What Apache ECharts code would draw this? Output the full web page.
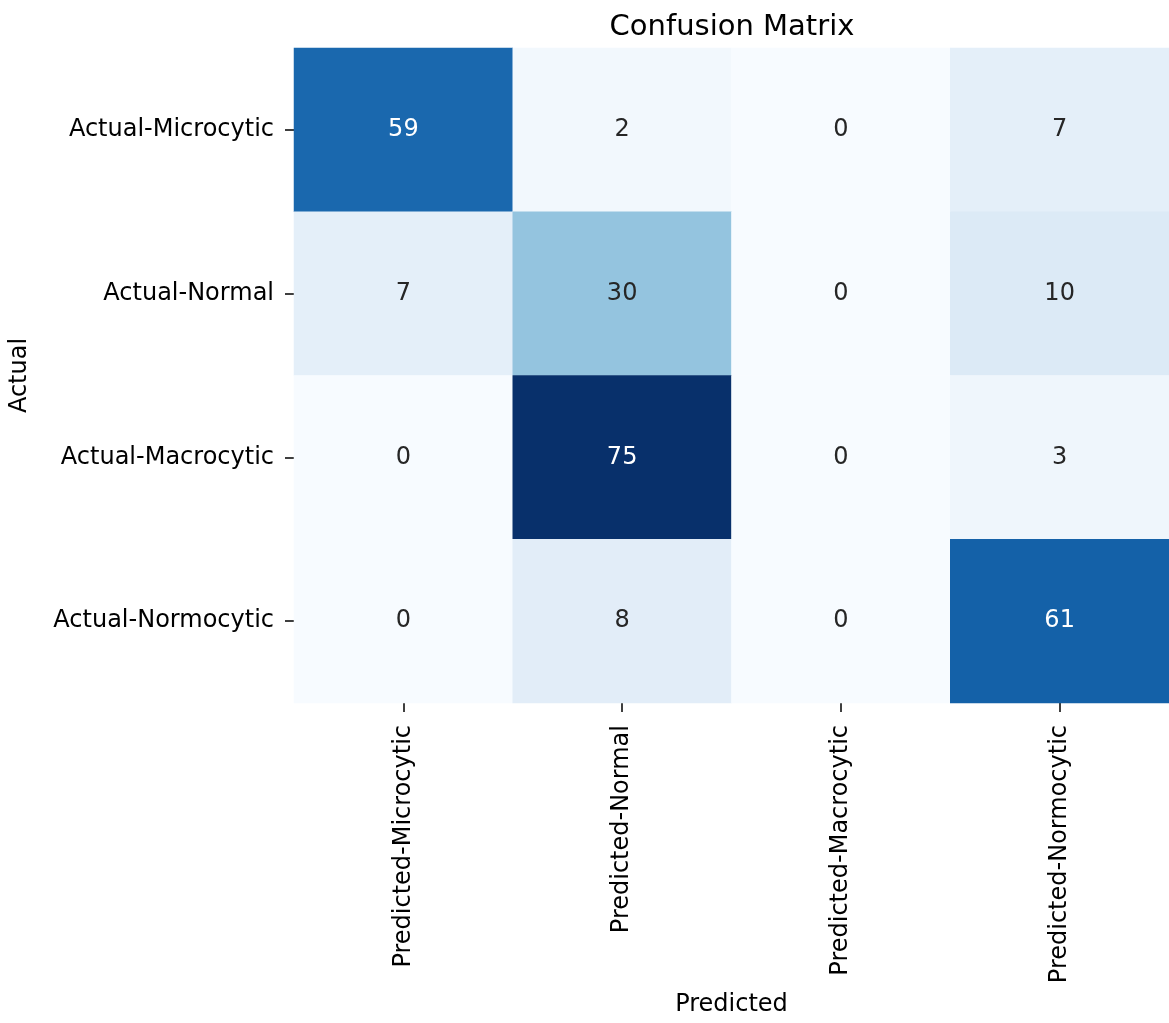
<!DOCTYPE html>
<html>
<head>
<meta charset="utf-8">
<script src="https://cdn.jsdelivr.net/npm/echarts@6/dist/echarts.min.js"></script>
<style>
  html, body { margin: 0; padding: 0; background: #ffffff; }
  #chart { width: 1169px; height: 1023px; }
</style>
</head>
<body>
<div id="chart"></div>
<script>
// Confusion matrix of predicted vs. actual red-cell classes
const predictedLabels = ['Predicted-Microcytic', 'Predicted-Normal', 'Predicted-Macrocytic', 'Predicted-Normocytic'];
const actualLabels = ['Actual-Microcytic', 'Actual-Normal', 'Actual-Macrocytic', 'Actual-Normocytic'];

// counts[row][col]: row = actual class, col = predicted class
const rowMicrocytic = [59, 2, 0, 7];
const rowNormal = [7, 30, 0, 10];
const rowMacrocytic = [0, 75, 0, 3];
const rowNormocytic = [0, 8, 0, 61];
const counts = [rowMicrocytic, rowNormal, rowMacrocytic, rowNormocytic];

// Blues colour ramp
const blues = ['#f7fbff', '#deebf7', '#c6dbef', '#9ecae1', '#6baed6', '#4292c6', '#2171b5', '#08519c', '#08306b'];

const maxCount = Math.max(...counts.flat());
const minCount = Math.min(...counts.flat());

const cells = [];
counts.forEach((row, r) => {
  row.forEach((v, c) => {
    const dark = (v - minCount) / (maxCount - minCount) > 0.55;
    cells.push({
      value: [c, r, v],
      label: { color: dark ? '#ffffff' : '#262626' }
    });
  });
});

const FONT = 'DejaVu Sans';
const chart = echarts.init(document.getElementById('chart'), null, { renderer: 'canvas' });

chart.setOption({
  backgroundColor: '#ffffff',
  animation: false,
  title: {
    text: 'Confusion Matrix',
    left: 727,
    top: 8,
    textAlign: 'center',
    textStyle: { fontFamily: FONT, fontSize: 29, fontWeight: 'normal', color: '#000000' }
  },
  grid: { left: 292, top: 48, width: 877, height: 655, containLabel: false },
  xAxis: {
    type: 'category',
    data: predictedLabels,
    position: 'bottom',
    name: 'Predicted',
    nameLocation: 'middle',
    nameGap: 290,
    nameTextStyle: { fontFamily: FONT, fontSize: 24, color: '#000000' },
    axisLine: { show: false },
    axisTick: { show: true, alignWithLabel: true, length: 9, lineStyle: { color: '#000000', width: 1.5 } },
    axisLabel: { rotate: 90, margin: 22, fontFamily: FONT, fontSize: 24, color: '#000000', interval: 0 },
    splitLine: { show: false },
    splitArea: { show: false }
  },
  yAxis: {
    type: 'category',
    data: actualLabels,
    inverse: true,
    name: 'Actual',
    nameLocation: 'middle',
    nameGap: 262,
    nameRotate: 90,
    nameTextStyle: { fontFamily: FONT, fontSize: 24, color: '#000000' },
    axisLine: { show: false },
    axisTick: { show: true, alignWithLabel: true, length: 9, lineStyle: { color: '#000000', width: 1.5 } },
    axisLabel: { margin: 20, fontFamily: FONT, fontSize: 24, color: '#000000', interval: 0, padding: [4, 0, 0, 0] },
    splitLine: { show: false },
    splitArea: { show: false }
  },
  visualMap: {
    show: false,
    type: 'continuous',
    min: minCount,
    max: maxCount,
    dimension: 2,
    inRange: { color: blues }
  },
  series: [{
    type: 'heatmap',
    data: cells,
    label: {
      show: true,
      fontFamily: FONT,
      fontSize: 24,
      padding: [3, 0, 0, 0],
      formatter: p => String(p.value[2])
    },
    itemStyle: { borderWidth: 0 },
    emphasis: { disabled: true }
  }]
});
</script>
</body>
</html>
